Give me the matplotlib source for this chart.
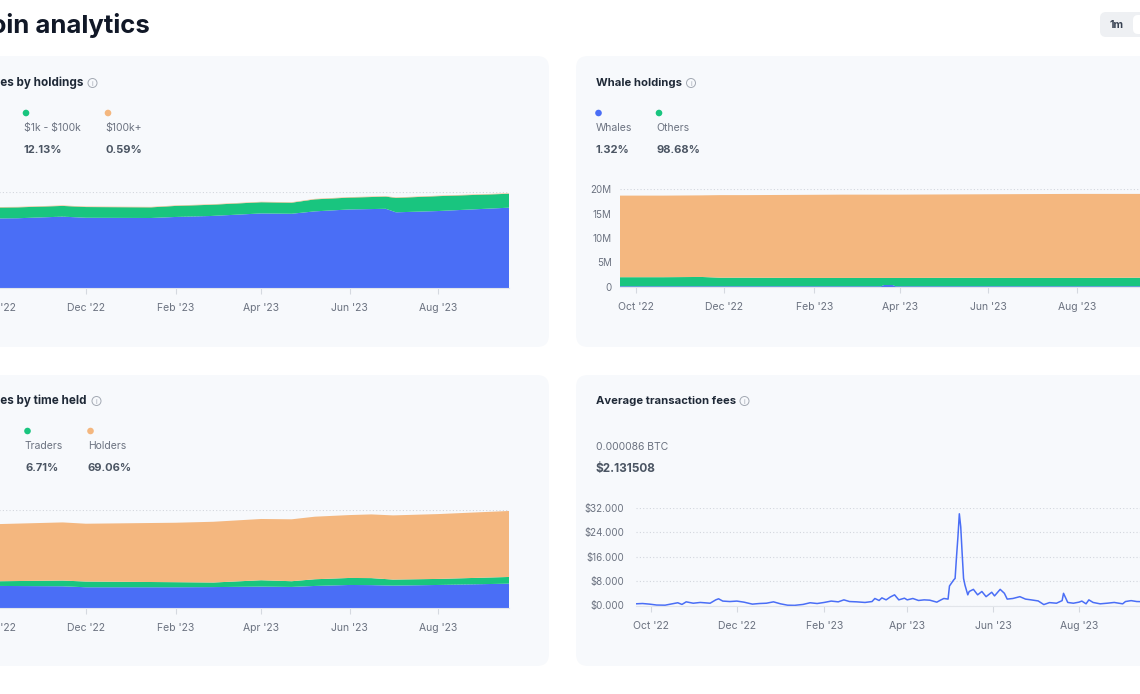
import pandas as pd
import matplotlib.pyplot as plt
import matplotlib.dates as mdates
from matplotlib.patches import FancyBboxPatch, Circle

plt.rcParams['font.family'] = ['Inter', 'DejaVu Sans']
plt.rcParams['text.parse_math'] = False

# ---- data (values in millions / USD) ----
holdings_dates = ['2022-09-20', '2022-10-15', '2022-11-15', '2022-12-01', '2023-01-15', '2023-02-01',
                  '2023-02-25', '2023-04-01', '2023-04-22', '2023-05-08', '2023-06-01', '2023-06-26',
                  '2023-07-03', '2023-08-01', '2023-09-19']
holdings_small = [43.4, 43.6, 44.6, 43.9, 43.75, 44.4, 45.0, 46.6, 46.4, 47.9, 49.1, 49.5, 47.3, 48.1, 50.2]
holdings_mid = [6.8, 6.8, 6.7, 6.7, 6.65, 6.9, 7.0, 7.0, 6.9, 7.5, 7.4, 7.6, 9.0, 9.3, 8.7]
holdings_large = [0.3, 0.3, 0.3, 0.3, 0.3, 0.3, 0.3, 0.3, 0.3, 0.3, 0.3, 0.3, 0.3, 0.3, 0.3]
holdings_labels = ['$0 - $1k', '$1k - $100k', '$100k+']
holdings_pct = ['87.28%', '12.13%', '0.59%']

whale_dates = ['2022-09-20', '2022-10-20', '2022-11-15', '2022-11-28', '2022-12-15', '2023-01-20',
               '2023-02-20', '2023-03-19', '2023-03-21', '2023-03-27', '2023-03-29', '2023-05-10',
               '2023-06-20', '2023-08-01', '2023-09-19']
whales = [0.15, 0.15, 0.15, 0.15, 0.15, 0.15, 0.15, 0.15, 0.4, 0.4, 0.15, 0.15, 0.15, 0.15, 0.15]
others = [1.85, 1.85, 1.9, 1.75, 1.75, 1.7, 1.7, 1.7, 1.45, 1.45, 1.7, 1.72, 1.7, 1.7, 1.75]
rest = [16.65, 16.65, 16.65, 16.85, 16.85, 16.95, 17.0, 17.0, 17.0, 17.0, 17.0, 17.03, 17.1, 17.15, 17.1]
whale_labels = ['Whales', 'Others']
whale_pct = ['1.32%', '98.68%']

time_dates = ['2022-09-20', '2022-10-03', '2022-11-15', '2022-12-01', '2023-02-01', '2023-02-27',
              '2023-04-01', '2023-04-22', '2023-05-08', '2023-06-01', '2023-06-16', '2023-07-01',
              '2023-08-01', '2023-09-19']
cruisers = [13.5, 13.5, 13.3, 12.7, 12.7, 12.8, 13.1, 12.9, 13.5, 14.1, 14.0, 13.7, 14.1, 14.9]
traders = [2.9, 2.9, 3.5, 3.5, 3.1, 2.8, 3.9, 3.5, 4.1, 4.3, 4.3, 3.7, 3.7, 4.1]
holders = [35.0, 35.0, 35.6, 35.4, 36.4, 37.2, 37.5, 37.9, 38.3, 38.5, 39.0, 39.3, 39.7, 40.4]
time_labels = ['Cruisers', 'Traders', 'Holders']
time_pct = ['24.23%', '6.71%', '69.06%']

# days since 2022-09-20
fee_days = [0, 5, 10, 15, 21, 26, 30, 33, 36, 41, 46, 53, 57, 59, 62, 67, 72, 77, 83, 88, 93, 98,
            103, 108, 113, 119, 124, 129, 134, 139, 144, 148, 152, 157, 163, 168, 170, 173, 175, 178,
            181, 184, 187, 191, 193, 197, 201, 205, 209, 214, 217, 219, 222, 223, 226, 227, 228, 229,
            230, 231, 232, 233, 234, 236, 237, 240, 243, 246, 249, 253, 255, 259, 262, 264, 268, 273,
            277, 281, 286, 290, 294, 299, 303, 304, 307, 311, 315, 317, 320, 322, 325, 330, 335, 340,
            346, 348, 352, 356, 364]
fee_usd = [0.55, 0.65, 0.45, 0.15, 0.1, 0.55, 0.9, 0.35, 1.2, 0.75, 1.0, 0.75, 1.85, 2.2, 1.45, 1.3,
           1.45, 1.1, 0.45, 0.65, 0.75, 1.2, 0.55, 0.1, 0.05, 0.35, 0.9, 0.65, 1.0, 1.45, 1.2, 1.85,
           1.3, 1.2, 1.0, 1.3, 2.3, 1.65, 2.5, 1.85, 2.8, 3.5, 1.85, 2.4, 1.85, 2.3, 1.65, 1.85, 1.75,
           1.1, 1.85, 2.3, 2.1, 6.4, 8.4, 8.9, 16.0, 22.5, 30.1, 25.8, 17.1, 8.9, 6.7, 3.5, 4.6, 5.3,
           3.5, 4.6, 2.9, 4.35, 3.15, 5.3, 4.0, 2.1, 2.3, 2.9, 2.1, 1.85, 1.5, 0.3, 0.95, 0.75, 1.6,
           4.0, 1.0, 0.75, 1.1, 1.45, 0.55, 1.85, 1.0, 0.55, 0.75, 1.0, 0.55, 1.3, 1.6, 1.3, 1.2]

BLUE = '#4a6ef6'
GREEN = '#19c57f'
ORANGE = '#f4b77f'
CARD = '#f7f9fc'
DARK = '#111827'
GRAY = '#6b7280'
VALUE = '#4b5563'

W, H = 1140, 694
fig = plt.figure(figsize=(W / 100, H / 100), dpi=100, facecolor='white')

bg = fig.add_axes([0, 0, 1, 1])
bg.set_xlim(0, W)
bg.set_ylim(H, 0)
bg.axis('off')


def card(x0, x1, y0, y1):
    bg.add_patch(FancyBboxPatch((x0, y0), x1 - x0, y1 - y0,
                                boxstyle='round,pad=0,rounding_size=12', fc=CARD, ec='none'))


def info_icon(x, y):
    bg.add_patch(Circle((x, y), 4.5, fill=False, ec='#a3a9b3', lw=0.7))
    bg.text(x, y + 0.5, 'i', fontsize=5, color='#a3a9b3', ha='center', va='center')


def legend_item(x, y, color, label, value):
    bg.add_patch(Circle((x + 2.5, y), 3.3, color=color, ec='none'))
    bg.text(x, y + 15, label, fontsize=7.5, color=GRAY, ha='left', va='center')
    bg.text(x, y + 37, value, fontsize=8, color=VALUE, fontweight='bold', ha='left', va='center')


def px_axes(x0, x1, y0, y1):
    return fig.add_axes([x0 / W, 1 - y1 / H, (x1 - x0) / W, (y1 - y0) / H])


def style_chart(ax, dates, ypad=6):
    ax.set_facecolor('none')
    ax.set_xlim(dates[0], dates[-1])
    for s in ['top', 'right', 'left']:
        ax.spines[s].set_visible(False)
    ax.spines['bottom'].set_color('#e2e5ea')
    ax.xaxis.set_major_locator(mdates.MonthLocator(bymonth=[10, 12, 2, 4, 6, 8]))
    ax.xaxis.set_major_formatter(mdates.DateFormatter("%b '%y"))
    ax.tick_params(axis='x', length=4, color='#d5d9e0', labelsize=7.5, labelcolor=GRAY, pad=7)
    ax.tick_params(axis='y', length=0, labelsize=7, labelcolor=GRAY, pad=ypad)
    ax.grid(axis='y', linestyle=(0, (1, 2)), color='#d2d6dd', linewidth=0.8)
    ax.set_axisbelow(True)


# page header
bg.text(150, 25, 'Bitcoin analytics', fontsize=18.5, fontweight='bold', color=DARK, ha='right', va='center')
bg.add_patch(FancyBboxPatch((1100, 12), 120, 25, boxstyle='round,pad=0,rounding_size=6', fc='#eef0f3', ec='none'))
bg.add_patch(FancyBboxPatch((1133, 15), 60, 19, boxstyle='round,pad=0,rounding_size=5', fc='white', ec='none'))
bg.text(1117, 24.5, '1m', fontsize=7.5, fontweight='bold', color='#374151', ha='center', va='center')

card(-62, 549, 56, 347)
card(576, 1186, 56, 347)
card(-62, 549, 375, 666)
card(576, 1186, 375, 666)

TITLE_SIZE = 8.1

# --- Addresses by holdings ---
bg.text(83, 83, 'Addresses by holdings', fontsize=8.4, fontweight='bold', color='#1f2937', ha='right', va='center')
info_icon(92.5, 83)
for x, c, lab, pct in zip([-80, 23.5, 105.5], [BLUE, GREEN, ORANGE], holdings_labels, holdings_pct):
    legend_item(x, 113, c, lab, pct)

d = pd.to_datetime(holdings_dates)
ax1 = px_axes(-18.5, 509, 192, 288)
ax1.stackplot(d, holdings_small, holdings_mid, holdings_large, colors=[BLUE, GREEN, ORANGE], linewidth=0)
ax1.set_ylim(0, 60)
ax1.set_yticks([0, 15, 30, 45, 60])
ax1.set_yticklabels(['0', '15M', '30M', '45M', '60M'])
style_chart(ax1, d)

# --- Whale holdings ---
bg.text(596, 83, 'Whale holdings', fontsize=TITLE_SIZE, fontweight='bold', color='#1f2937', ha='left', va='center')
info_icon(691, 83)
for x, c, lab, pct in zip([596, 656.5], [BLUE, GREEN], whale_labels, whale_pct):
    legend_item(x, 113, c, lab, pct)

d = pd.to_datetime(whale_dates)
ax2 = px_axes(620, 1148, 189, 287)
ax2.stackplot(d, whales, others, rest, colors=[BLUE, GREEN, ORANGE], linewidth=0)
ax2.set_ylim(0, 20)
ax2.set_yticks([0, 5, 10, 15, 20])
ax2.set_yticklabels(['0', '5M', '10M', '15M', '20M'])
style_chart(ax2, d)

# --- Addresses by time held ---
bg.text(87, 401, 'Addresses by time held', fontsize=8.4, fontweight='bold', color='#1f2937', ha='right', va='center')
info_icon(96.5, 401)
for x, c, lab, pct in zip([-75, 25, 88], [BLUE, GREEN, ORANGE], time_labels, time_pct):
    legend_item(x, 431, c, lab, pct)

d = pd.to_datetime(time_dates)
ax3 = px_axes(-18.5, 509, 510, 608)
ax3.stackplot(d, cruisers, traders, holders, colors=[BLUE, GREEN, ORANGE], linewidth=0)
ax3.set_ylim(0, 60)
ax3.set_yticks([0, 15, 30, 45, 60])
ax3.set_yticklabels(['0', '15M', '30M', '45M', '60M'])
style_chart(ax3, d)

# --- Average transaction fees ---
bg.text(596, 401, 'Average transaction fees', fontsize=TITLE_SIZE, fontweight='bold', color='#1f2937', ha='left', va='center')
info_icon(744.5, 401)
bg.text(596, 447, '0.000086 BTC', fontsize=7.5, color=GRAY, ha='left', va='center')
bg.text(596, 468.5, '$2.131508', fontsize=8.5, fontweight='bold', color=VALUE, ha='left', va='center')

d = pd.Timestamp('2022-09-20') + pd.to_timedelta(fee_days, unit='D')
ax4 = px_axes(635.5, 1148, 508, 605.5)
ax4.plot(d, fee_usd, color=BLUE, linewidth=1.1)
ax4.set_ylim(0, 32)
ax4.set_yticks([0, 8, 16, 24, 32])
ax4.set_yticklabels(['$%.3f' % v for v in [0, 8, 16, 24, 32]])
style_chart(ax4, d, ypad=8)
ax4.set_xlim(pd.Timestamp('2022-09-20'), pd.Timestamp('2023-09-19'))

fig.savefig('out.png', dpi=100, facecolor='white')
